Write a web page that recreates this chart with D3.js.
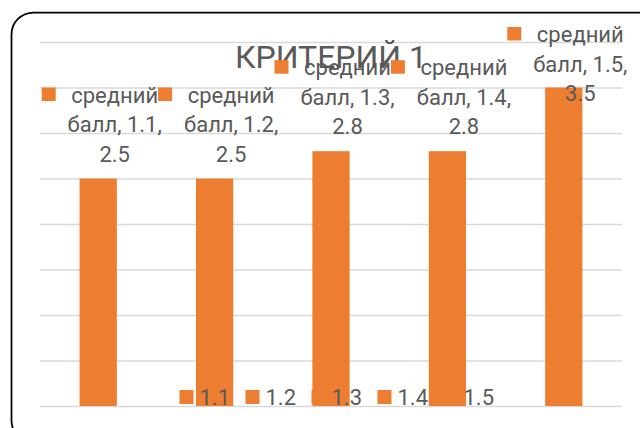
<!DOCTYPE html>
<html>
<head>
<meta charset="utf-8">
<script src="https://cdn.jsdelivr.net/npm/d3@7"></script>
<style>
  body { margin: 0; background: #fff; }
  svg { display: block; font-family: Roboto, "Noto Sans", sans-serif; }
</style>
</head>
<body>
<svg id="chart" width="640" height="428"></svg>
<script>
// グラフのデータ
var categories = ["1.1", "1.2", "1.3", "1.4", "1.5"];
var values = [2.5, 2.5, 2.8, 2.8, 3.5];
var seriesName = ["средний", "балл"];
var yTicks = [0, 0.5, 1, 1.5, 2, 2.5, 3, 3.5, 4];
var chartTitle = "КРИТЕРИЙ 1";

var barColor = "#ED7D31";
var textColor = "#595959";
var gridColor = "#D9D9D9";

var svg = d3.select("#chart");
var plot = { left: 40, right: 622, top: 42, bottom: 406 };

var xScale = d3
  .scaleBand()
  .domain(categories)
  .range([plot.left, plot.right])
  .paddingInner(0.68)
  .paddingOuter(0.34);
var yScale = d3.scaleLinear().domain([0, 4]).range([plot.bottom, plot.top]);

// 外枠
svg
  .append("rect")
  .attr("x", 11.5)
  .attr("y", 12.5)
  .attr("width", 660)
  .attr("height", 430)
  .attr("rx", 22)
  .attr("fill", "none")
  .attr("stroke", "#000")
  .attr("stroke-width", 1.75);

// 目盛り線
var grid = svg
  .append("g")
  .attr("transform", `translate(${plot.left},0)`)
  .call(
    d3
      .axisLeft(yScale)
      .tickValues(yTicks)
      .tickSize(-(plot.right - plot.left))
      .tickFormat("")
  );
grid.select(".domain").remove();
grid.selectAll("line").attr("stroke", gridColor).attr("stroke-width", 1.5);

// 棒
var data = categories.map((c, i) => ({ cat: c, value: values[i] }));
svg
  .append("g")
  .selectAll("rect")
  .data(data)
  .enter()
  .append("rect")
  .attr("x", (d) => xScale(d.cat))
  .attr("y", (d) => yScale(d.value))
  .attr("width", xScale.bandwidth())
  .attr("height", (d) => yScale(0) - yScale(d.value))
  .attr("fill", barColor);

// タイトル
svg
  .append("text")
  .attr("x", (plot.left + plot.right) / 2)
  .attr("y", 68)
  .attr("text-anchor", "middle")
  .attr("font-size", 32)
  .attr("fill", textColor)
  .text(chartTitle);

// 凡例
var legendStep = 66;
var legendCenter = 336;
var legendStart = legendCenter - (legendStep * (categories.length - 1) + 49) / 2;
var legend = svg
  .append("g")
  .selectAll("g")
  .data(categories)
  .enter()
  .append("g")
  .attr("transform", (d, i) => `translate(${legendStart + i * legendStep},0)`);
legend
  .append("rect")
  .attr("x", 0)
  .attr("y", 390)
  .attr("width", 14)
  .attr("height", 14)
  .attr("fill", barColor);
legend
  .append("text")
  .attr("x", 20)
  .attr("y", 405)
  .attr("font-size", 22)
  .attr("fill", textColor)
  .text((d) => d);

// データラベル(凡例マーカー付き、3行)
var lineHeight = 29.5;
var labels = svg
  .append("g")
  .selectAll("g")
  .data(data)
  .enter()
  .append("g")
  .attr("transform", (d) => {
    var cx = xScale(d.cat) + xScale.bandwidth() / 2 + 16.5;
    var y = Math.max(yScale(d.value) - 17 - lineHeight * 2, plot.top);
    return `translate(${cx},${y})`;
  });
labels
  .append("rect")
  .attr("x", -73)
  .attr("y", -15)
  .attr("width", 14)
  .attr("height", 13.5)
  .attr("fill", barColor);
labels
  .selectAll("text")
  .data((d) => [seriesName[0], `${seriesName[1]}, ${d.cat},`, d3.format(".1f")(d.value)])
  .enter()
  .append("text")
  .attr("x", 0)
  .attr("y", (d, i) => i * lineHeight)
  .attr("text-anchor", "middle")
  .attr("font-size", 22)
  .attr("fill", textColor)
  .text((d) => d);
</script>
</body>
</html>
